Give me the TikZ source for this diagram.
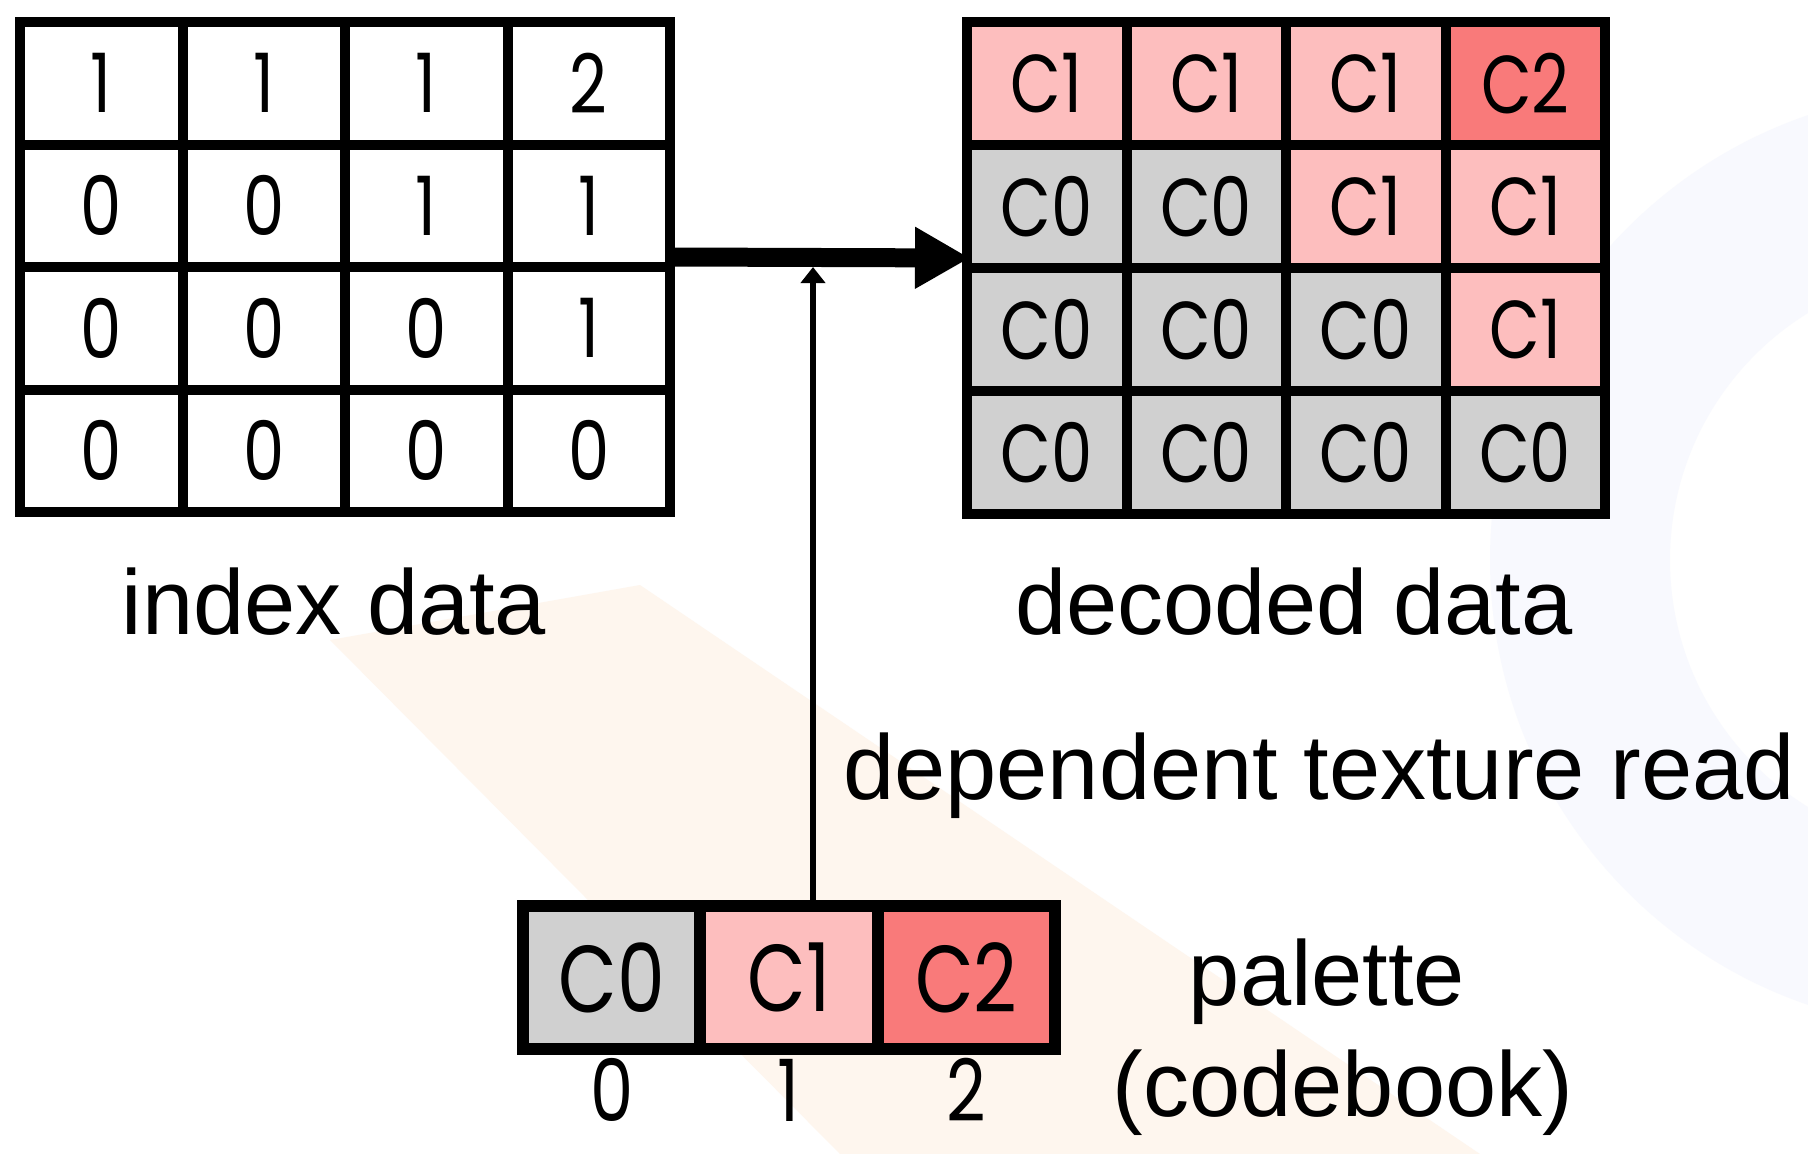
\documentclass[tikz,border=0pt]{standalone}
\usepackage{fontspec}
\setmainfont{Liberation Sans}
\newfontfamily\cellfont[FakeStretch=0.8]{Poppins}
\usetikzlibrary{arrows.meta,fit}

\definecolor{cellgray}{RGB}{208,208,208}
\definecolor{cellpink}{RGB}{253,190,190}
\definecolor{cellred}{RGB}{249,122,122}
\definecolor{wmblue}{RGB}{248,249,254}
\definecolor{wmorange}{RGB}{254,246,238}

\begin{document}
\begin{tikzpicture}[x=1pt,y=-1pt,
  idxcell/.style={draw=black, line width=10pt, minimum width=162.5pt,
    minimum height=122.5pt, inner sep=0pt,
    font=\cellfont\fontsize{82}{82}\selectfont},
  deccell/.style={draw=black, line width=10pt, minimum width=159.5pt,
    minimum height=123pt, inner sep=0pt,
    font=\cellfont\fontsize{82}{82}\selectfont},
  palcell/.style={draw=black, line width=12pt, minimum width=177.3pt,
    minimum height=143pt, inner sep=0pt,
    font=\cellfont\fontsize{95}{95}\selectfont},
  pal0/.style={fill=cellgray},
  pal1/.style={fill=cellpink},
  pal2/.style={fill=cellred},
  lbl/.style={font=\fontsize{92}{110}\selectfont, inner sep=0pt},
  palidx/.style={font=\cellfont\fontsize{86}{86}\selectfont, inner sep=0pt},
  group/.style={inner sep=0pt, outer sep=0pt}]

% page frame
\useasboundingbox (0,0) rectangle (1808,1154);
\fill[white] (0,0) rectangle (1808,1154);

% faint background logo shapes
\fill[wmblue, even odd rule] (1960,560) circle (470pt) (1960,560) circle (290pt);
\fill[wmorange] (330,640) -- (640,585) -- (1480,1154) -- (840,1154) -- cycle;

% index data grid
\foreach \row/\a/\b/\c/\d in {1/1/1/1/2, 2/0/0/1/1, 3/0/0/0/1, 4/0/0/0/0}{
  \foreach \v [count=\col] in {\a,\b,\c,\d}{
    \node[idxcell] (i-\row-\col) at ({20+162.5*(\col-0.5)}, {22+122.5*(\row-0.5)}) {\v};
  }
}
\node[group, fit=(i-1-1)(i-4-4)] (index) {};

% decoded data grid
\foreach \row/\a/\b/\c/\d in {1/1/1/1/2, 2/0/0/1/1, 3/0/0/0/1, 4/0/0/0/0}{
  \foreach \v [count=\col] in {\a,\b,\c,\d}{
    \node[deccell, pal\v] (d-\row-\col) at ({967+159.5*(\col-0.5)}, {22+123*(\row-0.5)}) {C\v};
  }
}
\node[group, fit=(d-1-1)(d-4-4)] (decoded) {};

% palette with its indices
\foreach \v in {0,1,2}{
  \node[palcell, pal\v] (p\v) at ({523+177.33*(\v+0.5)}, 977.5) {C\v};
  \node[palidx, anchor=base] (n\v) at ({523+177.33*(\v+0.5)}, 1121) {\v};
}

% labels
\node[lbl, anchor=base] (idxlabel) at (334,634) {index data};
\node[lbl, anchor=base] (declabel) at (1294,634) {decoded data};
\node[lbl, anchor=base] (readlabel) at (1319,799) {dependent texture read};
\node[lbl, anchor=base] (pallabel) at (1327,1005) {palette};
\node[lbl, anchor=base] (cblabel) at (1343,1116) {(codebook)};

% lookup arrows
\coordinate (join) at (813,267);
\draw[line width=19pt, -{Triangle[length=55pt,width=58pt]}]
  ([yshift=10pt]index.east) -- ([xshift=8pt,yshift=10pt]decoded.west);
\draw[line width=6pt, -{Triangle[length=16pt,width=24pt]}]
  (p1.north -| join) -- (join);
\end{tikzpicture}
\end{document}
